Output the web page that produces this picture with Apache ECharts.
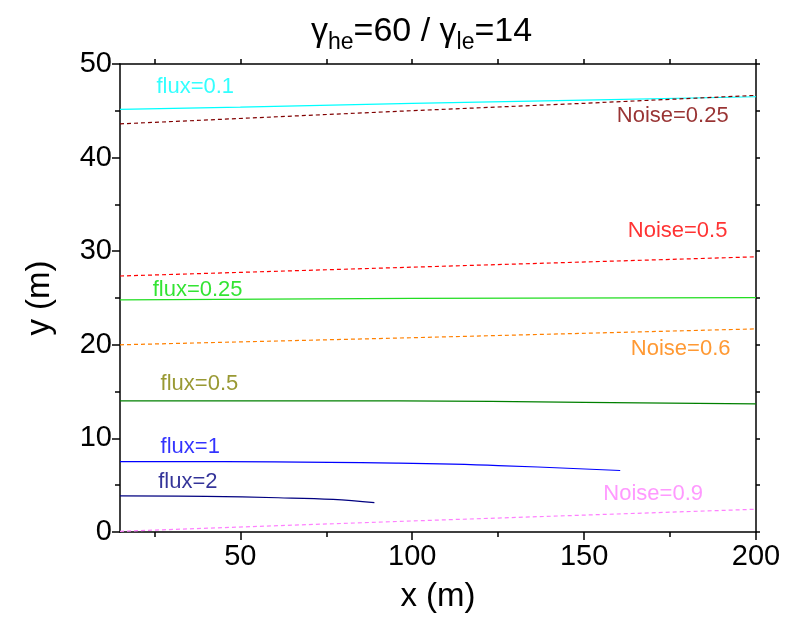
<!DOCTYPE html>
<html>
<head>
<meta charset="utf-8">
<script src="https://cdn.jsdelivr.net/npm/echarts@6/dist/echarts.min.js"></script>
<style>
html,body{margin:0;padding:0;background:#fff;}
#c{width:796px;height:618px;}
</style>
</head>
<body>
<div id="c"></div>
<script>
// ---- data ----
const flux01X = [15, 50, 100, 150, 200];
const flux01Y = [45.15, 45.4, 45.8, 46.15, 46.5];
const noise025X = [15, 96, 150, 200];
const noise025Y = [43.6, 44.95, 45.8, 46.65];
const noise05X = [15, 96, 200];
const noise05Y = [27.35, 28.25, 29.4];
const flux025X = [15, 100, 200];
const flux025Y = [24.8, 24.95, 25.03];
const noise06X = [15, 96, 200];
const noise06Y = [20.0, 20.72, 21.7];
const flux05X = [15, 96, 150, 200];
const flux05Y = [14.0, 14.0, 13.85, 13.68];
const flux1X = [15, 60, 96, 125, 160.5];
const flux1Y = [7.52, 7.5, 7.35, 7.1, 6.57];
const flux2X = [15, 40, 61, 77, 89];
const flux2Y = [3.87, 3.8, 3.66, 3.48, 3.13];
const noise09X = [15, 96, 200];
const noise09Y = [0.07, 1.13, 2.43];

const labelTexts = ['flux=0.1', 'Noise=0.25', 'Noise=0.5', 'flux=0.25', 'Noise=0.6', 'flux=0.5', 'flux=1', 'flux=2', 'Noise=0.9'];
const labelX = [25.6, 159.5, 162.7, 24.5, 163.6, 26.8, 26.8, 26.1, 155.6];
const labelY = [47.6, 44.5, 32.2, 25.9, 19.55, 15.8, 9.05, 5.35, 4.05];

const xLabelTicks = [50, 100, 150, 200];
const xMinorTicks = [25, 75, 125, 175];
const xTopTicks = [25, 50, 75, 100, 125, 150, 175, 200];
const yMinorTicks = [5, 15, 25, 35, 45];
const yRightTicks = [0, 5, 10, 15, 20, 25, 30, 35, 40, 45, 50];

// ---- styles ----
const labelColors = ['#00FFFF', '#800000', '#FF0000', '#00DD00', '#FF8000', '#808000', '#0000FF', '#000080', '#FF80FF'];
const NARROW = '"Liberation Sans Narrow", "Arial Narrow", "Liberation Sans", Arial, sans-serif';
const SANS = '"Liberation Sans", Arial, sans-serif';

function zip(xs, ys) { return xs.map((x, i) => [x, ys[i]]); }

function lineSeries(name, xs, ys, color, dashed, smooth) {
  return {
    name: name, type: 'line', xAxisIndex: 0, yAxisIndex: 0,
    data: zip(xs, ys), showSymbol: false, symbol: 'none', smooth: smooth ? 0.4 : false,
    lineStyle: { color: color, width: 1.2, type: dashed ? [4, 3] : 'solid' },
    z: 3, silent: true
  };
}

const series = [
  lineSeries('flux=0.1', flux01X, flux01Y, '#00FFFF', false),
  lineSeries('Noise=0.25', noise025X, noise025Y, '#800000', true),
  lineSeries('Noise=0.5', noise05X, noise05Y, '#FF0000', true),
  lineSeries('flux=0.25', flux025X, flux025Y, '#22DD22', false),
  lineSeries('Noise=0.6', noise06X, noise06Y, '#FF8000', true),
  lineSeries('flux=0.5', flux05X, flux05Y, '#008000', false, true),
  lineSeries('flux=1', flux1X, flux1Y, '#0000FF', false, true),
  lineSeries('flux=2', flux2X, flux2Y, '#000080', false, true),
  lineSeries('Noise=0.9', noise09X, noise09Y, '#FF80FF', true),
  {
    type: 'scatter', xAxisIndex: 0, yAxisIndex: 0, symbolSize: 0, silent: true, z: 5,
    data: labelTexts.map((t, i) => ({
      value: [labelX[i], labelY[i]], name: t,
      label: { color: labelColors[i] }
    })),
    label: {
      show: true, position: 'right', distance: 0, formatter: p => p.name,
      fontSize: 22, fontFamily: SANS
    }
  }
];

const axisLine = { show: true, onZero: false, lineStyle: { color: '#000', width: 1.5 } };

const option = {
  animation: false,
  backgroundColor: '#fff',
  title: {
    text: 'γ{sub|he}=60 / γ{sub|le}=14',
    left: 306, top: 4,
    textStyle: {
      fontSize: 34, fontWeight: 'normal', color: '#000', fontFamily: NARROW,
      rich: { sub: { fontSize: 23, fontFamily: NARROW, color: '#000', verticalAlign: 'bottom', padding: [22, 0, 0, 0] } }
    }
  },
  grid: { left: 120, right: 40, top: 64, bottom: 80, containLabel: false },
  xAxis: [
    {
      type: 'value', position: 'bottom', min: 15, max: 200,
      name: 'x (m)', nameLocation: 'middle', nameGap: 48,
      nameTextStyle: { fontSize: 33, fontFamily: NARROW, color: '#000' },
      axisLine: axisLine,
      axisTick: { show: true, inside: false, length: 8, customValues: xLabelTicks, lineStyle: { color: '#000', width: 1.5 } },
      axisLabel: { show: true, customValues: xLabelTicks, fontSize: 29, fontFamily: NARROW, color: '#000', margin: 10 },
      splitLine: { show: false }
    },
    {
      type: 'value', position: 'bottom', min: 15, max: 200,
      axisLine: { show: false },
      axisTick: { show: true, inside: false, length: 5, customValues: xMinorTicks, lineStyle: { color: '#000', width: 1.5 } },
      axisLabel: { show: false }, splitLine: { show: false }
    },
    {
      type: 'value', position: 'top', min: 15, max: 200,
      axisLine: axisLine,
      axisTick: { show: true, inside: false, length: 5, customValues: xTopTicks, lineStyle: { color: '#000', width: 1.5 } },
      axisLabel: { show: false }, splitLine: { show: false }
    }
  ],
  yAxis: [
    {
      type: 'value', position: 'left', min: 0, max: 50, interval: 10,
      name: 'y (m)', nameLocation: 'middle', nameGap: 64, nameRotate: 90,
      nameTextStyle: { fontSize: 33, fontFamily: SANS, color: '#000' },
      axisLine: axisLine,
      axisTick: { show: true, inside: false, length: 8, lineStyle: { color: '#000', width: 1.5 } },
      axisLabel: { show: true, fontSize: 29, fontFamily: NARROW, color: '#000', margin: 8 },
      splitLine: { show: false }
    },
    {
      type: 'value', position: 'left', min: 0, max: 50,
      axisLine: { show: false },
      axisTick: { show: true, inside: false, length: 5, customValues: yMinorTicks, lineStyle: { color: '#000', width: 1.5 } },
      axisLabel: { show: false }, splitLine: { show: false }
    },
    {
      type: 'value', position: 'right', min: 0, max: 50,
      axisLine: axisLine,
      axisTick: { show: true, inside: false, length: 4, customValues: yRightTicks, lineStyle: { color: '#000', width: 1.5 } },
      axisLabel: { show: false }, splitLine: { show: false }
    }
  ],
  series: series
};

const chart = echarts.init(document.getElementById('c'), null, { renderer: 'canvas' });
chart.setOption(option);
</script>
</body>
</html>
